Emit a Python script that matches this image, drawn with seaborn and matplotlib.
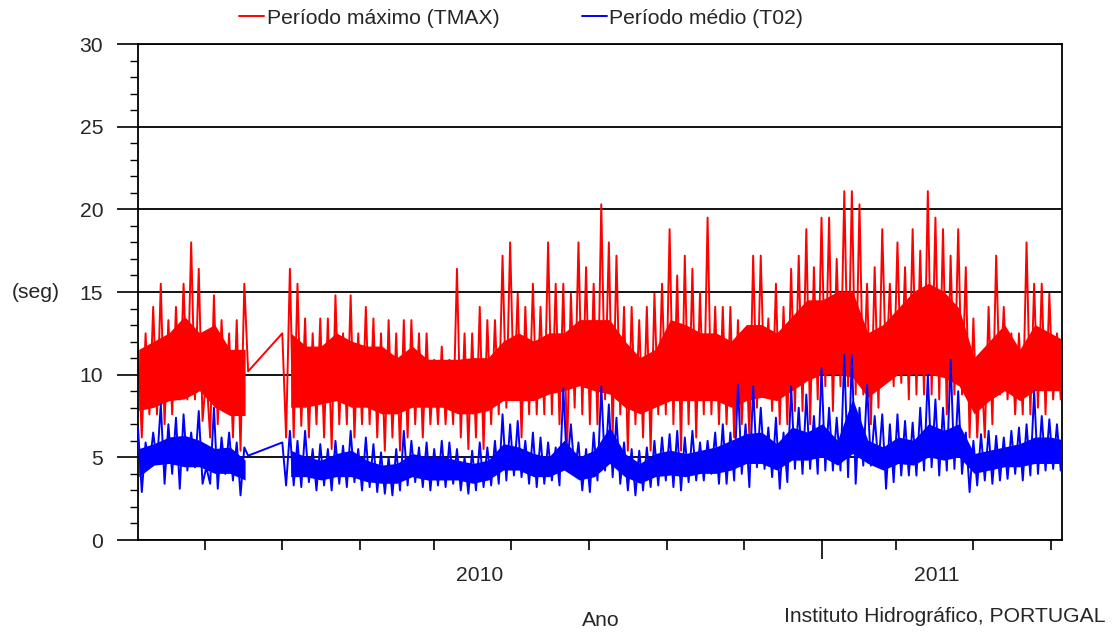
import numpy as np
import pandas as pd
import matplotlib
matplotlib.use("Agg")
import matplotlib.pyplot as plt
import seaborn as sns

# ---- data ----
# spikes: one sample every 6 days, peak (high) then dip (low)
start_date = "2009-07-10"
step_days = 6
nan = np.nan
tmax_high = [11.7, 12.5, 14.1, 15.5, 13.3, 14.1, 15.5, 18.0, 16.4, 10.0,
             14.8, 13.3, 12.5, 13.3, 15.5, nan, nan, nan, nan, 12.5,
             16.4, 15.5, 13.4, 12.5, 13.4, 13.4, 14.8, 12.5, 14.8, 12.5,
             14.1, 13.4, 12.5, 13.3, 12.5, 13.3, 13.3, 12.5, 12.5, 10.9,
             11.7, 10.9, 16.4, 12.5, 12.5, 14.1, 13.3, 13.3, 17.2, 18.0,
             14.9, 14.1, 15.5, 14.1, 18.0, 15.5, 15.5, 14.9, 18.0, 16.5,
             15.5, 20.3, 18.0, 17.2, 14.1, 14.1, 13.3, 14.1, 14.9, 15.5,
             18.8, 16.0, 17.2, 16.4, 15.0, 19.5, 14.1, 14.1, 14.1, 13.3,
             12.5, 17.2, 17.2, 13.4, 15.5, 14.1, 16.4, 17.2, 18.8, 16.5,
             19.5, 19.5, 17.0, 21.1, 21.1, 20.3, 15.5, 16.5, 18.8, 15.5,
             18.0, 16.5, 18.8, 17.5, 21.1, 19.5, 18.8, 17.2, 18.8, 16.5,
             13.4, 11.0, 14.1, 17.2, 14.1, 12.5, 12.5, 18.0, 15.5, 15.5,
             14.9, 12.5]
tmax_low = [6.2, 7.6, 7.6, 7.0, 7.6, 8.5, 8.5, 8.5, 7.2, 6.2,
            7.0, 8.5, 6.2, 5.4, 10.2, nan, nan, nan, nan, 6.2,
            6.2, 6.9, 6.2, 7.0, 6.2, 5.5, 7.0, 7.0, 6.2, 7.0,
            7.0, 6.2, 5.4, 6.2, 5.4, 6.2, 7.0, 6.2, 7.0, 7.0,
            7.0, 7.0, 6.2, 5.5, 6.2, 5.5, 7.0, 7.6, 8.0, 8.5,
            6.2, 7.6, 7.6, 7.6, 7.6, 7.0, 5.4, 8.0, 7.6, 7.0,
            7.0, 8.5, 6.2, 7.6, 5.4, 7.0, 6.2, 5.4, 7.6, 7.6,
            7.0, 5.4, 7.0, 6.2, 7.6, 7.6, 7.0, 7.0, 6.2, 7.0,
            6.2, 8.0, 8.8, 7.8, 7.0, 7.0, 7.8, 7.8, 7.0, 8.5,
            9.3, 7.8, 9.3, 9.3, 8.8, 8.8, 7.0, 8.0, 10.0, 9.3,
            9.5, 8.5, 8.8, 8.8, 8.8, 8.5, 7.6, 8.8, 8.8, 6.2,
            6.2, 6.2, 7.0, 8.8, 8.5, 7.6, 7.6, 7.6, 8.0, 7.6,
            8.5, 8.5]
t02_high = [6.8, 5.9, 6.5, 8.2, 7.0, 7.4, 7.6, 6.5, 7.8, 4.4,
            8.0, 6.2, 6.5, 5.9, 5.6, nan, nan, nan, nan, 5.9,
            6.6, 6.0, 6.6, 5.5, 5.8, 5.5, 6.0, 5.7, 6.6, 5.5,
            6.2, 5.8, 5.3, 5.0, 5.5, 6.6, 6.0, 5.6, 5.9, 5.5,
            6.0, 5.9, 5.5, 5.0, 5.4, 5.9, 5.6, 6.0, 7.6, 7.0,
            7.2, 6.0, 6.5, 6.2, 5.9, 5.6, 9.2, 7.0, 5.9, 5.5,
            6.5, 9.3, 8.2, 7.4, 5.9, 5.5, 5.4, 5.6, 6.0, 6.2,
            6.4, 6.6, 6.2, 6.6, 5.9, 6.0, 6.5, 7.0, 6.5, 9.4,
            7.0, 9.3, 8.0, 6.8, 7.4, 6.5, 9.3, 8.0, 8.8, 7.5,
            10.4, 8.0, 7.4, 11.2, 11.2, 8.0, 9.4, 7.5, 7.6, 7.0,
            7.6, 7.2, 7.1, 8.0, 10.0, 8.5, 8.0, 10.9, 9.0, 6.5,
            6.0, 6.4, 6.6, 6.3, 6.2, 6.6, 6.8, 7.0, 9.0, 7.5,
            7.3, 7.0]
t02_low = [2.9, 4.4, 4.6, 3.4, 4.0, 3.1, 4.2, 4.4, 3.4, 3.4,
           3.1, 4.0, 3.6, 2.7, 5.1, nan, nan, nan, nan, 3.3,
           3.3, 3.2, 3.5, 3.0, 3.3, 3.0, 3.4, 3.2, 3.5, 3.0,
           3.2, 2.9, 2.8, 2.7, 3.0, 3.3, 3.5, 3.2, 3.0, 3.3,
           3.2, 3.4, 3.0, 2.8, 3.0, 3.2, 3.3, 3.4, 3.6, 3.9,
           3.8, 3.4, 3.2, 3.4, 3.6, 3.3, 4.3, 4.0, 3.0, 2.9,
           3.6, 4.2, 3.8, 3.4, 3.0, 2.7, 3.0, 3.2, 3.3, 3.6,
           3.2, 3.0, 3.5, 3.6, 3.6, 4.0, 3.4, 3.4, 3.6, 4.0,
           3.2, 4.4, 4.3, 3.8, 3.1, 3.5, 4.3, 4.0, 4.3, 4.0,
           4.2, 4.2, 4.2, 3.8, 3.4, 4.5, 4.5, 4.5, 3.1, 3.5,
           3.9, 3.9, 3.9, 4.2, 4.4, 3.9, 4.2, 4.3, 4.0, 2.9,
           3.3, 3.6, 3.4, 3.6, 3.7, 4.0, 3.6, 3.9, 4.0, 4.2,
           4.3, 4.2]

# dense core of each band (where the trace is solid), one sample every 12 days
core_step_days = 12
tmax_core_top = [11.5, 12.0, 12.5, 13.5, 12.5, 13.0, 11.5, 11.5, nan, nan,
                 12.5, 11.7, 11.7, 12.5, 12.0, 11.7, 11.7, 11.0, 11.7, 10.9,
                 10.9, 10.9, 11.0, 11.0, 12.0, 12.5, 12.0, 12.5, 12.5, 13.3,
                 13.3, 13.3, 12.0, 11.0, 11.5, 13.3, 13.0, 12.5, 12.5, 12.0,
                 13.0, 13.0, 12.5, 13.5, 14.5, 14.5, 15.0, 15.0, 12.5, 13.0,
                 14.0, 15.0, 15.5, 15.0, 14.0, 11.0, 12.0, 13.0, 11.5, 13.0,
                 12.5, 12.0]
tmax_core_bottom = [7.8, 8.0, 8.4, 8.5, 9.0, 8.0, 7.5, 7.5, nan, nan,
                    8.0, 8.0, 8.2, 8.4, 8.0, 8.0, 7.6, 7.6, 8.0, 8.0,
                    8.0, 7.6, 7.6, 7.8, 8.4, 8.4, 8.4, 8.8, 9.0, 9.3,
                    9.0, 8.8, 8.0, 7.6, 8.0, 8.4, 8.4, 8.4, 8.4, 8.0,
                    8.4, 8.6, 8.4, 9.0, 9.6, 10.0, 10.0, 9.8, 8.6, 9.3,
                    10.0, 10.0, 10.0, 9.8, 9.3, 7.6, 8.4, 9.0, 8.4, 9.0,
                    9.0, 9.0]
t02_core_top = [5.5, 5.8, 6.2, 6.3, 6.0, 5.5, 5.6, 4.8, nan, nan,
                5.4, 5.0, 4.8, 5.2, 5.4, 4.8, 4.5, 4.6, 5.2, 5.0,
                5.0, 4.8, 4.6, 4.8, 5.8, 5.6, 5.2, 5.0, 6.0, 5.0,
                5.4, 6.8, 5.2, 4.6, 5.2, 5.4, 5.2, 5.4, 5.6, 6.0,
                6.4, 6.5, 5.8, 6.8, 6.5, 7.0, 6.0, 8.5, 6.0, 5.6,
                6.2, 6.0, 7.0, 6.6, 7.0, 5.2, 5.4, 5.6, 5.8, 6.2,
                6.2, 6.0]
t02_core_bottom = [3.8, 4.5, 4.6, 4.4, 4.4, 4.0, 4.0, 3.6, nan, nan,
                   3.8, 3.8, 3.6, 3.8, 3.8, 3.5, 3.4, 3.4, 3.8, 3.6,
                   3.6, 3.6, 3.4, 3.6, 4.2, 4.2, 3.8, 3.8, 4.2, 3.6,
                   3.8, 4.6, 3.8, 3.4, 3.8, 3.9, 3.8, 4.0, 4.0, 4.2,
                   4.6, 4.6, 4.2, 4.8, 4.8, 5.0, 4.5, 5.2, 4.6, 4.2,
                   4.6, 4.5, 5.0, 4.8, 5.0, 4.0, 4.2, 4.4, 4.4, 4.6,
                   4.6, 4.6]

y_ticks = [0, 5, 10, 15, 20, 25, 30]
year_labels = ["2010", "2011"]
year_label_dates = ["2010-04-06", "2011-04-02"]
tick_dates = ["2009-09-01", "2009-11-01", "2010-01-01", "2010-03-01", "2010-05-01",
              "2010-07-01", "2010-09-01", "2010-11-01", "2011-03-01", "2011-05-01",
              "2011-07-01"]
major_tick_dates = ["2011-01-01"]
legend_labels = ["Período máximo (TMAX)", "Período médio (T02)"]
texts = {"ylabel": "(seg)", "xlabel": "Ano", "credit": "Instituto Hidrográfico, PORTUGAL"}

RED = "#ff0000"
BLUE = "#0000ff"
FS = 15.2


def zigzag(high, low):
    n = len(high)
    base = pd.date_range(start_date, periods=n, freq=f"{step_days}D")
    t = np.empty(2 * n, dtype="datetime64[ns]")
    v = np.empty(2 * n)
    t[0::2] = base.values
    t[1::2] = (base + pd.Timedelta(days=step_days // 2)).values
    v[0::2] = high
    v[1::2] = low
    return pd.DataFrame({"date": t, "value": v}).dropna()


sns.set_theme(style="white")
plt.rcParams["font.family"] = ["Liberation Sans", "DejaVu Sans"]

fig = plt.figure(figsize=(11.12, 6.32), dpi=100)
ax = fig.add_axes([138 / 1112, 1 - 540 / 632, 924 / 1112, 496 / 632])

core_dates = pd.date_range(start_date, periods=len(tmax_core_top),
                           freq=f"{core_step_days}D") + pd.Timedelta(days=1)
ax.fill_between(core_dates, tmax_core_bottom, tmax_core_top, color=RED,
                linewidth=0, zorder=2)
ax.fill_between(core_dates, t02_core_bottom, t02_core_top, color=BLUE,
                linewidth=0, zorder=3)

red_df = zigzag(tmax_high, tmax_low)
blue_df = zigzag(t02_high, t02_low)
sns.lineplot(data=red_df, x="date", y="value", ax=ax, color=RED,
             linewidth=1.4, estimator=None, label=legend_labels[0], zorder=2.5)
sns.lineplot(data=blue_df, x="date", y="value", ax=ax, color=BLUE,
             linewidth=1.4, estimator=None, label=legend_labels[1], zorder=3.5)

ax.set_xlim(pd.Timestamp("2009-07-10"), pd.Timestamp("2011-07-10"))
ax.set_ylim(0, 30)
ax.set_yticks(y_ticks)
ax.set_yticklabels([str(v) for v in y_ticks], fontsize=FS)
ax.yaxis.set_minor_locator(matplotlib.ticker.MultipleLocator(1))
ax.yaxis.grid(True, which="major", color="black", linewidth=1.3)
ax.set_axisbelow(True)
ax.tick_params(axis="y", which="major", direction="out", length=15, width=1.2,
               color="black", pad=10, left=True)
ax.tick_params(axis="y", which="minor", direction="out", length=6, width=1.0,
               color="black", left=True)

ax.set_xticks([pd.Timestamp(d) for d in major_tick_dates])
ax.set_xticklabels([""])
ax.set_xticks([pd.Timestamp(d) for d in tick_dates], minor=True)
ax.tick_params(axis="x", which="major", direction="out", length=14, width=1.2,
               color="black", bottom=True)
ax.tick_params(axis="x", which="minor", direction="out", length=7, width=1.2,
               color="black", bottom=True)
for lab, d in zip(year_labels, year_label_dates):
    ax.text(pd.Timestamp(d), -2.15, lab, ha="center", va="center", fontsize=FS,
            clip_on=False)

for s in ax.spines.values():
    s.set_visible(True)
    s.set_color("black")
    s.set_linewidth(1.3)

ax.set_xlabel("")
ax.set_ylabel("")
fig.text(36 / 1112, 1 - 293 / 632, texts["ylabel"], ha="center", va="center", fontsize=FS)
fig.text(601 / 1112, 1 - 621 / 632, texts["xlabel"], ha="center", va="center", fontsize=FS)
fig.text(1106 / 1112, 1 - 617 / 632, texts["credit"], ha="right", va="center", fontsize=FS)

ax.legend(loc="center", bbox_to_anchor=(521 / 1112, 1 - 18 / 632),
          bbox_transform=fig.transFigure, ncol=2, frameon=False,
          fontsize=FS, handlelength=1.2, handletextpad=0.12,
          columnspacing=3.9)

fig.savefig("out.png", dpi=100, facecolor="white")
